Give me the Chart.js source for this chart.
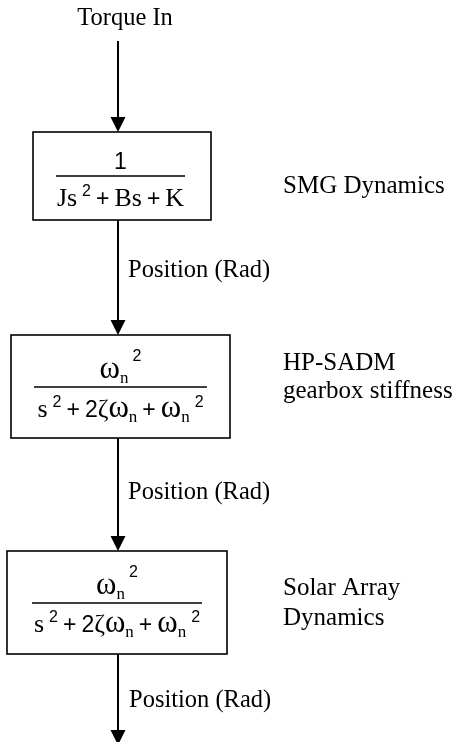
<!DOCTYPE html>
<html>
<head>
<meta charset="utf-8">
<script src="https://cdn.jsdelivr.net/npm/chart.js@4/dist/chart.umd.min.js"></script>
<style>
  html, body { margin: 0; padding: 0; background: #fff; }
  #wrap { width: 454px; height: 742px; }
</style>
</head>
<body>
<div id="wrap"><canvas id="diagram"></canvas></div>
<script>
// signals flowing down the spine
const signalLabels = ['Torque In', 'Position (Rad)', 'Position (Rad)', 'Position (Rad)'];
// name of each block, one entry per text line
const blockNames = [['SMG Dynamics'], ['HP-SADM', 'gearbox stiffness'], ['Solar Array', 'Dynamics']];
// transfer functions: runs of [text, kind]
// kinds: r = roman letter, g = greek, d = digit, op = operator, sub / sup = small scripts, hsup = raised after a subscript
const numerators = [
    [['1', 'd']],
    [['\u03c9', 'g'], ['n', 'sub'], ['2', 'hsup']],
    [['\u03c9', 'g'], ['n', 'sub'], ['2', 'hsup']]
];
const denominators = [
    [['Js', 'r'], ['2', 'sup'], ['+', 'op'], ['Bs', 'r'], ['+', 'op'], ['K', 'r']],
    [['s', 'r'], ['2', 'sup'], ['+', 'op'], ['2', 'd'], ['\u03b6', 'r'], ['\u03c9', 'g'], ['n', 'sub'], ['+', 'op'], ['\u03c9', 'g'], ['n', 'sub'], ['2', 'sup']],
    [['s', 'r'], ['2', 'sup'], ['+', 'op'], ['2', 'd'], ['\u03b6', 'r'], ['\u03c9', 'g'], ['n', 'sub'], ['+', 'op'], ['\u03c9', 'g'], ['n', 'sub'], ['2', 'sup']]
];

// layout in diagram units (x 0..454, y 0..742 downwards)
const spineX = 118;
const boxLayout = [
    { l: 33, r: 211, t: 132, b: 220, rule: 176, ruleL: 56, ruleR: 185, num: 169, den: 206 },
    { l: 11, r: 230, t: 335, b: 438, rule: 387, ruleL: 34, ruleR: 207, num: 378, den: 417 },
    { l: 7, r: 227, t: 551, b: 654, rule: 603, ruleL: 32, ruleR: 202, num: 594, den: 632 }
];
const nameX = 283;
const nameBaselines = [[193], [370, 398], [595, 625]];
const signalPos = [
    { x: 125, y: 25, align: 'center' },
    { x: 128, y: 277, align: 'left' },
    { x: 128, y: 499, align: 'left' },
    { x: 129, y: 707, align: 'left' }
];
const arrowRuns = [[41, 132], [220, 335], [438, 551], [654, 745]];

const SERIF = '"Liberation Serif", "Times New Roman", serif';
const SANS = '"Liberation Sans", Arial, sans-serif';
const runStyle = {
    r: { font: '26px ' + SERIF, dy: 0, padL: 0, padR: 0 },
    g: { font: '31px ' + SERIF, dy: 0, padL: 0, padR: 0 },
    d: { font: '23px ' + SANS, dy: 0, padL: 0, padR: 0 },
    op: { font: '23px ' + SANS, dy: 0, padL: 5, padR: 5 },
    sub: { font: '17px ' + SERIF, dy: 5, padL: 0, padR: 0 },
    sup: { font: '16px ' + SANS, dy: -10, padL: 5, padR: 0 },
    hsup: { font: '16px ' + SANS, dy: -17, padL: 4, padR: 0 }
};

function drawRuns(ctx, runs, cx, baseline) {
    let total = 0;
    const widths = runs.map(([text, kind]) => {
        const st = runStyle[kind];
        ctx.font = st.font;
        const w = st.padL + ctx.measureText(text).width + st.padR;
        total += w;
        return w;
    });
    let x = cx - total / 2;
    ctx.textAlign = 'left';
    ctx.textBaseline = 'alphabetic';
    runs.forEach(([text, kind], i) => {
        const st = runStyle[kind];
        ctx.font = st.font;
        ctx.fillText(text, x + st.padL, baseline + st.dy);
        x += widths[i];
    });
}

const diagramPlugin = {
    id: 'blockDiagram',
    afterDraw(chart) {
        const ctx = chart.ctx;
        const sx = v => chart.scales.x.getPixelForValue(v);
        const sy = v => chart.scales.y.getPixelForValue(v);
        ctx.save();
        ctx.fillStyle = '#000';
        ctx.strokeStyle = '#000';

        // arrows on the spine
        arrowRuns.forEach(([from, to]) => {
            const x = sx(spineX);
            ctx.lineWidth = 2;
            ctx.beginPath();
            ctx.moveTo(x, sy(from));
            ctx.lineTo(x, sy(to) - 12);
            ctx.stroke();
            ctx.beginPath();
            ctx.moveTo(x - 7.5, sy(to) - 15);
            ctx.lineTo(x + 7.5, sy(to) - 15);
            ctx.lineTo(x, sy(to));
            ctx.closePath();
            ctx.fill();
        });

        // blocks
        boxLayout.forEach((b, i) => {
            ctx.lineWidth = 1.6;
            ctx.fillStyle = '#fff';
            ctx.fillRect(sx(b.l), sy(b.t), sx(b.r) - sx(b.l), sy(b.b) - sy(b.t));
            ctx.strokeRect(sx(b.l), sy(b.t), sx(b.r) - sx(b.l), sy(b.b) - sy(b.t));
            ctx.fillStyle = '#000';
            ctx.lineWidth = 1.3;
            ctx.beginPath();
            ctx.moveTo(sx(b.ruleL), sy(b.rule));
            ctx.lineTo(sx(b.ruleR), sy(b.rule));
            ctx.stroke();
            const cx = sx((b.ruleL + b.ruleR) / 2);
            drawRuns(ctx, numerators[i], cx, sy(b.num));
            drawRuns(ctx, denominators[i], cx, sy(b.den));

            ctx.font = '25px ' + SERIF;
            ctx.textAlign = 'left';
            blockNames[i].forEach((line, j) => {
                ctx.fillText(line, sx(nameX), sy(nameBaselines[i][j]));
            });
        });

        // signal labels
        ctx.font = '24.5px ' + SERIF;
        signalLabels.forEach((label, i) => {
            const p = signalPos[i];
            ctx.textAlign = p.align;
            ctx.fillText(label, sx(p.x), sy(p.y));
        });
        ctx.restore();
    }
};

new Chart(document.getElementById('diagram'), {
    type: 'scatter',
    data: { datasets: [{ data: [], pointRadius: 0 }] },
    options: {
        responsive: true,
        maintainAspectRatio: false,
        animation: false,
        layout: { padding: 0 },
        plugins: { legend: { display: false }, tooltip: { enabled: false } },
        scales: {
            x: { type: 'linear', min: 0, max: 454, display: false },
            y: { type: 'linear', min: 0, max: 742, reverse: true, display: false }
        }
    },
    plugins: [diagramPlugin]
});
</script>
</body>
</html>
